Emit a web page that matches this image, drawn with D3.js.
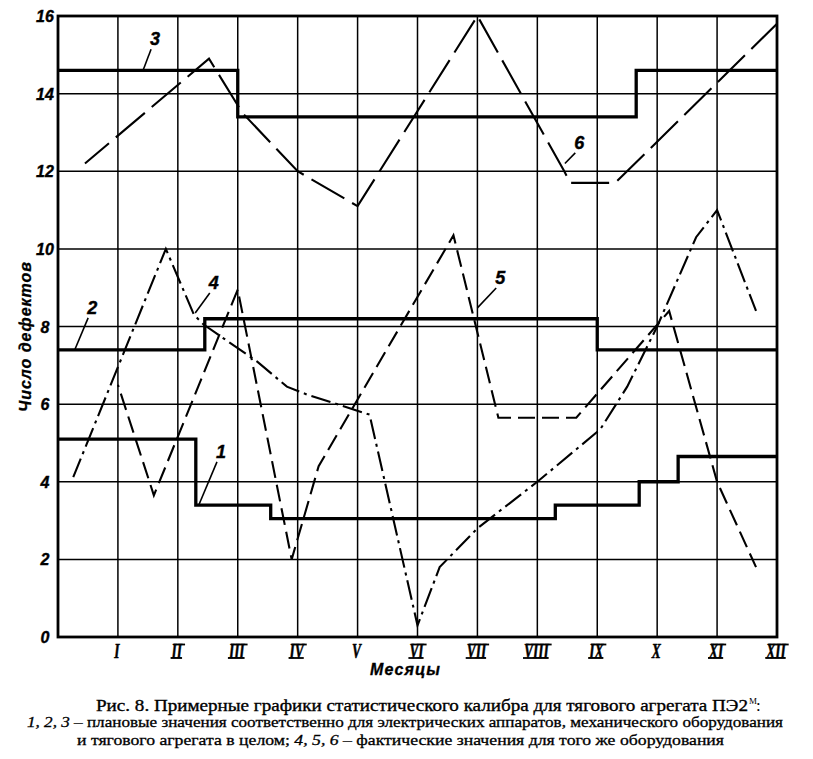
<!DOCTYPE html>
<html>
<head>
<meta charset="utf-8">
<script src="https://cdn.jsdelivr.net/npm/d3@7"></script>
<style>
    body { margin: 0; background: #fff; }
    text { fill: #000; }
</style>
</head>
<body>
<svg id="chart" width="813" height="759"></svg>
<script>
    const months = ['I', 'II', 'III', 'IV', 'V', 'VI', 'VII', 'VIII', 'IX', 'X', 'XI', 'XII'];
    const yTickValues = [0, 2, 4, 6, 8, 10, 12, 14, 16];

    // plan values 1, 2, 3: [month, value], value holds until the next point
    const plan1 = [[0, 5.1], [2.3, 3.4], [3.55, 3.05], [8.3, 3.4], [9.7, 4.0], [10.35, 4.65], [12, 4.65]];
    const plan2 = [[0, 7.4], [2.45, 8.2], [9.0, 7.4], [12, 7.4]];
    const plan3 = [[0, 14.6], [3.0, 13.4], [9.65, 14.6], [12, 14.6]];

    // actual values 4, 5, 6: [month, value]
    const fact4 = [[0.25, 4.1], [1.8, 10.0], [2.27, 8.3], [2.43, 8.05], [3.32, 7.1], [3.82, 6.45], [4.15, 6.25],
        [5.2, 5.73], [6.0, 0.3], [6.37, 1.8], [7.0, 2.8], [8.0, 4.0], [9.05, 5.35], [9.5, 6.45], [10.0, 8.0],
        [10.65, 10.3], [11.0, 11.0], [11.65, 8.4]];
    const fact5 = [[1.0, 6.5], [1.6, 3.65], [3.0, 8.95], [3.9, 2.0], [4.35, 4.4], [6.6, 10.35], [7.35, 5.65],
        [8.65, 5.65], [10.2, 8.4], [11.0, 4.0], [11.65, 1.8]];
    const fact6 = [[0.45, 12.2], [2.52, 14.9], [3.08, 13.5], [4.0, 12.0], [5.0, 11.1], [7.0, 16.0], [8.45, 12.0],
        [8.55, 11.7], [9.3, 11.7], [12.0, 15.8]];

    // curve numbers and where their leader touches the curve (data units)
    const curveNames = ['1', '2', '3', '4', '5', '6'];
    const nameAt = [[2.72, 4.77], [0.57, 8.48], [1.62, 15.4], [2.6, 9.12], [7.38, 9.25], [8.7, 12.73]];
    const nameTip = [[2.35, 3.4], [0.28, 7.4], [1.42, 14.6], [2.29, 8.35], [7.0, 8.48], [8.46, 12.2]];

    const captionTitle = 'Рис. 8. Примерные графики статистического калибра для тягового агрегата ПЭ2';
    const captionLine2 = [['1, 2, 3', true], [' – плановые значения соответственно для электрических аппаратов, механического оборудования', false]];
    const captionLine3 = [['и тягового агрегата в целом; ', false], ['4, 5, 6', true], [' – фактические значения для того же оборудования', false]];

    const gost = "'Liberation Sans', Arial, sans-serif";
    const serif = "'Liberation Serif', 'Times New Roman', serif";

    const svg = d3.select('#chart');

    const x = d3.scaleLinear().domain([0, 12]).range([58, 777]);
    const y = d3.scaleLinear().domain([0, 16]).range([637, 16]);

    // grid
    const grid = svg.append('g').attr('stroke', '#000').attr('stroke-width', 1.5);
    grid.selectAll('line.v')
        .data(d3.range(1, 12))
        .enter().append('line')
        .attr('x1', d => x(d)).attr('x2', d => x(d))
        .attr('y1', y(16)).attr('y2', y(0));
    grid.selectAll('line.h')
        .data(yTickValues.filter(v => v > 0 && v < 16))
        .enter().append('line')
        .attr('x1', x(0)).attr('x2', x(12))
        .attr('y1', d => y(d)).attr('y2', d => y(d));

    svg.append('rect')
        .attr('x', x(0)).attr('y', y(16))
        .attr('width', x(12) - x(0)).attr('height', y(0) - y(16))
        .attr('fill', 'none').attr('stroke', '#000').attr('stroke-width', 2.8);

    // y ticks
    svg.append('g').selectAll('text')
        .data(yTickValues)
        .enter().append('text')
        .attr('x', 45).attr('y', d => y(d) + 6)
        .attr('text-anchor', 'middle')
        .attr('stroke', '#000').attr('stroke-width', 0.4)
        .style('font', `italic bold 16px ${gost}`)
        .text(d => d);

    // month numerals, narrow with bars like the drawing type
    const monthG = svg.append('g').selectAll('g')
        .data(months)
        .enter().append('g')
        .attr('transform', (d, i) => `translate(${x(i + 1) - 1},658)`);
    monthG.append('text')
        .attr('text-anchor', 'middle')
        .attr('transform', 'scale(0.64,1)')
        .attr('stroke', '#000').attr('stroke-width', 0.6)
        .style('font', `italic bold 21px ${serif}`)
        .text(d => d);
    monthG.each(function (d) {
        if (d.length < 2) return;
        const w = this.querySelector('text').getComputedTextLength() * 0.64;
        const g = d3.select(this);
        g.append('line').attr('x1', -w / 2 + 2).attr('x2', w / 2 + 3).attr('y1', -13.5).attr('y2', -13.5)
            .attr('stroke', '#000').attr('stroke-width', 1.8);
        g.append('line').attr('x1', -w / 2 - 1).attr('x2', w / 2).attr('y1', 0).attr('y2', 0)
            .attr('stroke', '#000').attr('stroke-width', 1.8);
    });

    // axis titles
    svg.append('text')
        .attr('x', 405).attr('y', 675)
        .attr('text-anchor', 'middle')
        .attr('textLength', 70).attr('lengthAdjust', 'spacing')
        .attr('stroke', '#000').attr('stroke-width', 0.3)
        .style('font', `italic bold 16px ${gost}`)
        .text('Месяцы');
    svg.append('text')
        .attr('transform', 'translate(31,337) rotate(-90)')
        .attr('text-anchor', 'middle')
        .attr('textLength', 150).attr('lengthAdjust', 'spacing')
        .attr('stroke', '#000').attr('stroke-width', 0.3)
        .style('font', `italic bold 16px ${gost}`)
        .text('Число дефектов');

    // plan step lines
    const step = d3.line().x(d => x(d[0])).y(d => y(d[1])).curve(d3.curveStepAfter);
    svg.append('g').selectAll('path')
        .data([plan1, plan2, plan3])
        .enter().append('path')
        .attr('d', step)
        .attr('fill', 'none').attr('stroke', '#000').attr('stroke-width', 3.3);

    // actual value lines
    const line = d3.line().x(d => x(d[0])).y(d => y(d[1]));
    const factStyles = [
        { data: fact4, dash: [20, 5, 3, 5] },
        { data: fact5, dash: [17, 7] },
        { data: fact6, dash: [38, 9] }
    ];
    svg.append('g').selectAll('path')
        .data(factStyles)
        .enter().append('path')
        .attr('d', d => line(d.data))
        .attr('fill', 'none').attr('stroke', '#000').attr('stroke-width', 2.1)
        .attr('stroke-dasharray', d => d.dash.join(','))
        .attr('stroke-dashoffset', function (d) {
            // shift the pattern so the curve ends on a dash, as drawn
            const period = d3.sum(d.dash);
            const len = this.getTotalLength();
            return d.dash[0] - 2 - (len % period);
        });

    // curve numbers with leaders
    const names = svg.append('g').selectAll('g')
        .data(curveNames)
        .enter().append('g');
    names.append('line')
        .attr('x1', (d, i) => x(nameAt[i][0]) - 4).attr('y1', (d, i) => y(nameAt[i][1]) + 10)
        .attr('x2', (d, i) => x(nameTip[i][0])).attr('y2', (d, i) => y(nameTip[i][1]))
        .attr('stroke', '#000').attr('stroke-width', 1.6);
    names.append('text')
        .attr('x', (d, i) => x(nameAt[i][0])).attr('y', (d, i) => y(nameAt[i][1]) + 6)
        .attr('text-anchor', 'middle')
        .attr('stroke', '#000').attr('stroke-width', 0.4)
        .style('font', `italic bold 18px ${gost}`)
        .text(d => d);

    // caption
    svg.append('text')
        .attr('x', 96).attr('y', 711)
        .attr('textLength', 652).attr('lengthAdjust', 'spacingAndGlyphs')
        .attr('stroke', '#000').attr('stroke-width', 0.35)
        .style('font', `17px ${serif}`)
        .text(captionTitle);
    svg.append('text').attr('x', 749).attr('y', 704).style('font', `9px ${serif}`).text('М');
    svg.append('text').attr('x', 756).attr('y', 711).style('font', `17px ${serif}`).text(':');

    const captionRow = (parts, x0, yb, len) => {
        const t = svg.append('text')
            .attr('x', x0).attr('y', yb)
            .attr('textLength', len).attr('lengthAdjust', 'spacingAndGlyphs')
            .attr('stroke', '#000').attr('stroke-width', 0.3)
            .style('font', `15px ${serif}`);
        parts.forEach(([s, it]) => t.append('tspan').style('font-style', it ? 'italic' : 'normal').text(s));
    };
    captionRow(captionLine2, 27, 727, 756);
    captionRow(captionLine3, 77, 745, 647);
</script>
</body>
</html>
